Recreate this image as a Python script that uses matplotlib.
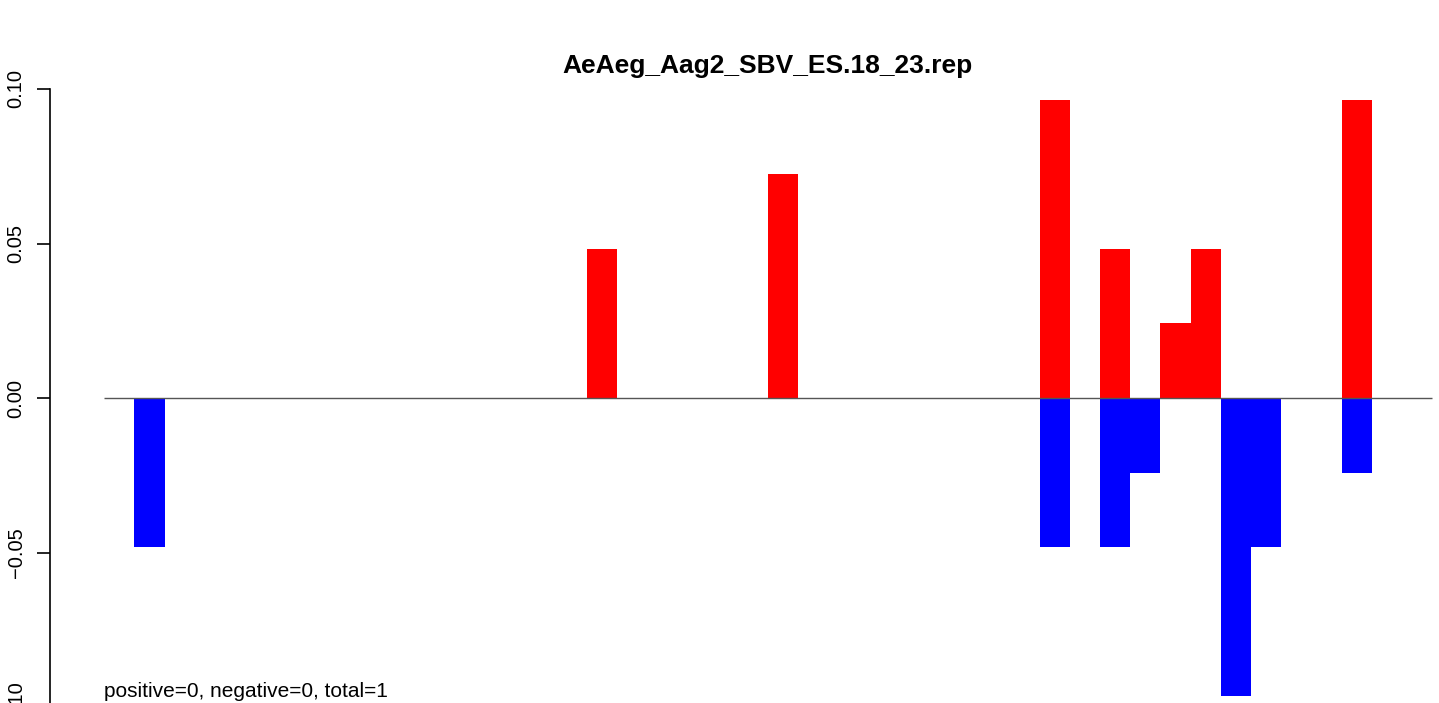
import matplotlib
matplotlib.use("Agg")
import matplotlib.pyplot as plt

plt.rcParams['font.family'] = ['Liberation Sans', 'DejaVu Sans']

title = "AeAeg_Aag2_SBV_ES.18_23.rep"
note = "positive=0, negative=0, total=1"

# bar positions (left edge, in bar units) and heights
red_pos = [15, 21, 30, 32, 34, 35, 40]
red_val = [0.0483, 0.0725, 0.0966, 0.0483, 0.0242, 0.0483, 0.0966]
blue_pos = [0, 30, 32, 33, 36, 37, 40]
blue_val = [-0.0483, -0.0483, -0.0483, -0.0242, -0.0966, -0.0483, -0.0242]
line_range = (-1, 43)
yticks = [-0.10, -0.05, 0.00, 0.05, 0.10]

W, H = 1439, 703
fig = plt.figure(figsize=(W / 100, H / 100), dpi=100)
ax = fig.add_axes([50 / W, (H - 707) / H, (W - 50) / W, 618 / H])

ax.bar(red_pos, red_val, width=1, align='edge', color='#ff0000', linewidth=0)
ax.bar(blue_pos, blue_val, width=1, align='edge', color='#0000ff', linewidth=0)
ax.hlines(0, *line_range, color='#555555', lw=1, zorder=5)

ax.set_xlim(-2.80, 43.23)
ax.set_ylim(-0.10, 0.10)
for s in ['top', 'right', 'bottom']:
    ax.spines[s].set_visible(False)
ax.spines['left'].set_linewidth(1.2)
ax.set_xticks([])
ax.set_yticks(yticks)
ax.set_yticklabels([f"{t:.2f}".replace('-', '\u2212') for t in yticks],
                   rotation=90, va='center', fontsize=14.5)
ax.tick_params(axis='y', length=9.5, width=1.2, pad=8)

fig.text(767 / W, (H - 66) / H, title, ha='center', va='center',
         fontsize=19, fontweight='bold')
fig.text(104 / W, (H - 697) / H, note, ha='left', va='baseline', fontsize=15)

fig.savefig("out.png", dpi=100)
